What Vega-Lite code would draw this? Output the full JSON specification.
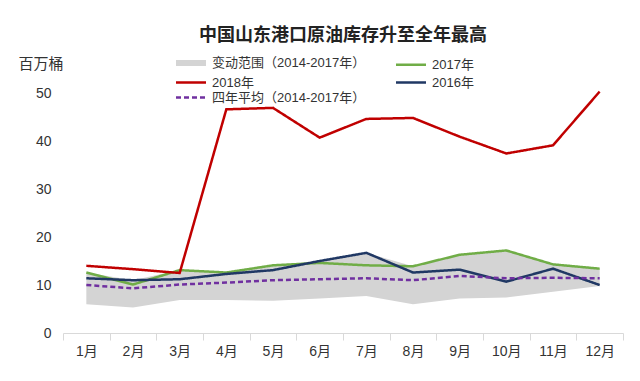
{
  "$schema": "https://vega.github.io/schema/vega-lite/v6.json",
  "autosize": "none",
  "width": 560,
  "height": 264,
  "padding": {"left": 63, "top": 69, "right": 17, "bottom": 48},
  "background": "white",
  "config": {
    "view": {"stroke": null},
    "font": "Liberation Sans, Noto Sans CJK SC, sans-serif"
  },
  "title": {
    "text": "中国山东港口原油库存升至全年最高",
    "fontSize": 18,
    "fontWeight": "bold",
    "color": "#222222",
    "anchor": "middle",
    "offset": 10,
    "font": "Noto Sans CJK SC"
  },
  "datasets": {
    "band": [
      {"month": "1月", "series": "变动范围（2014-2017年）", "low": 6.0, "high": 12.6},
      {"month": "2月", "series": "变动范围（2014-2017年）", "low": 5.3, "high": 11.0},
      {"month": "3月", "series": "变动范围（2014-2017年）", "low": 6.9, "high": 13.1},
      {"month": "4月", "series": "变动范围（2014-2017年）", "low": 6.9, "high": 12.6},
      {"month": "5月", "series": "变动范围（2014-2017年）", "low": 6.7, "high": 14.1},
      {"month": "6月", "series": "变动范围（2014-2017年）", "low": 7.2, "high": 15.0},
      {"month": "7月", "series": "变动范围（2014-2017年）", "low": 7.7, "high": 16.7},
      {"month": "8月", "series": "变动范围（2014-2017年）", "low": 6.0, "high": 13.9},
      {"month": "9月", "series": "变动范围（2014-2017年）", "low": 7.2, "high": 16.3},
      {"month": "10月", "series": "变动范围（2014-2017年）", "low": 7.4, "high": 17.2},
      {"month": "11月", "series": "变动范围（2014-2017年）", "low": 8.6, "high": 14.3},
      {"month": "12月", "series": "变动范围（2014-2017年）", "low": 9.8, "high": 13.4}
    ],
    "lines": [
      {"month": "1月", "series": "2017年", "value": 12.6},
      {"month": "2月", "series": "2017年", "value": 10.1},
      {"month": "3月", "series": "2017年", "value": 13.1},
      {"month": "4月", "series": "2017年", "value": 12.6},
      {"month": "5月", "series": "2017年", "value": 14.1},
      {"month": "6月", "series": "2017年", "value": 14.6},
      {"month": "7月", "series": "2017年", "value": 14.1},
      {"month": "8月", "series": "2017年", "value": 13.9},
      {"month": "9月", "series": "2017年", "value": 16.3},
      {"month": "10月", "series": "2017年", "value": 17.2},
      {"month": "11月", "series": "2017年", "value": 14.3},
      {"month": "12月", "series": "2017年", "value": 13.4},
      {"month": "1月", "series": "2016年", "value": 11.4},
      {"month": "2月", "series": "2016年", "value": 11.0},
      {"month": "3月", "series": "2016年", "value": 11.2},
      {"month": "4月", "series": "2016年", "value": 12.3},
      {"month": "5月", "series": "2016年", "value": 13.1},
      {"month": "6月", "series": "2016年", "value": 15.0},
      {"month": "7月", "series": "2016年", "value": 16.7},
      {"month": "8月", "series": "2016年", "value": 12.6},
      {"month": "9月", "series": "2016年", "value": 13.2},
      {"month": "10月", "series": "2016年", "value": 10.7},
      {"month": "11月", "series": "2016年", "value": 13.4},
      {"month": "12月", "series": "2016年", "value": 10.0},
      {"month": "1月", "series": "2018年", "value": 14.0},
      {"month": "2月", "series": "2018年", "value": 13.3},
      {"month": "3月", "series": "2018年", "value": 12.5},
      {"month": "4月", "series": "2018年", "value": 46.6},
      {"month": "5月", "series": "2018年", "value": 46.9},
      {"month": "6月", "series": "2018年", "value": 40.7},
      {"month": "7月", "series": "2018年", "value": 44.6},
      {"month": "8月", "series": "2018年", "value": 44.8},
      {"month": "9月", "series": "2018年", "value": 40.9},
      {"month": "10月", "series": "2018年", "value": 37.4},
      {"month": "11月", "series": "2018年", "value": 39.1},
      {"month": "12月", "series": "2018年", "value": 50.3},
      {"month": "1月", "series": "四年平均（2014-2017年）", "value": 10.0},
      {"month": "2月", "series": "四年平均（2014-2017年）", "value": 9.3},
      {"month": "3月", "series": "四年平均（2014-2017年）", "value": 10.1},
      {"month": "4月", "series": "四年平均（2014-2017年）", "value": 10.5},
      {"month": "5月", "series": "四年平均（2014-2017年）", "value": 11.0},
      {"month": "6月", "series": "四年平均（2014-2017年）", "value": 11.2},
      {"month": "7月", "series": "四年平均（2014-2017年）", "value": 11.4},
      {"month": "8月", "series": "四年平均（2014-2017年）", "value": 11.0},
      {"month": "9月", "series": "四年平均（2014-2017年）", "value": 11.9},
      {"month": "10月", "series": "四年平均（2014-2017年）", "value": 11.4},
      {"month": "11月", "series": "四年平均（2014-2017年）", "value": 11.5},
      {"month": "12月", "series": "四年平均（2014-2017年）", "value": 11.4}
    ]
  },
  "encoding": {
    "x": {
      "field": "month",
      "type": "ordinal",
      "sort": ["1月","2月","3月","4月","5月","6月","7月","8月","9月","10月","11月","12月"],
      "scale": {"type": "band", "paddingInner": 0, "paddingOuter": 0},
      "axis": {
        "title": null,
        "labelAngle": 0,
        "tickBand": "extent",
        "tickSize": 7,
        "tickColor": "#d9d9d9",
        "domainColor": "#d9d9d9",
        "labelFontSize": 14,
        "labelColor": "#333333",
        "labelPadding": 4,
        "grid": false
      }
    }
  },
  "layer": [
    {
      "data": {"name": "band"},
      "mark": {"type": "area", "opacity": 1},
      "encoding": {
        "y": {
          "field": "low",
          "type": "quantitative",
          "scale": {"domain": [0, 55], "nice": false},
          "axis": {
            "title": "百万桶",
            "titleAngle": 0,
            "titleAlign": "left",
            "titleBaseline": "middle",
            "titleX": -45,
            "titleY": -6,
            "titleFontSize": 15,
            "titleFontWeight": "normal",
            "titleColor": "#333333",
            "values": [0, 10, 20, 30, 40, 50],
            "labelFontSize": 14,
            "labelColor": "#333333",
            "labelPadding": 12,
            "ticks": false,
            "domain": false,
            "grid": false
          }
        },
        "y2": {"field": "high"},
        "color": {
          "field": "series",
          "type": "nominal",
          "title": null,
          "scale": {
            "domain": ["变动范围（2014-2017年）", "2017年", "2018年", "2016年", "四年平均（2014-2017年）"],
            "range": ["#d4d4d4", "#70ad47", "#c00000", "#203864", "#7030a0"]
          },
          "legend": {
            "title": null,
            "orient": "none",
            "direction": "horizontal",
            "legendX": 110,
            "legendY": -14,
            "columns": 2,
            "columnPadding": 25,
            "rowPadding": 1,
            "padding": 0,
            "symbolType": "M-1,0L5,0",
            "symbolSize": 100,
            "symbolStrokeWidth": 2.5,
            "symbolOpacity": 1,
            "labelOffset": 23,
            "labelFontSize": 13,
            "labelColor": "#333333",
            "labelFont": "Liberation Sans, Noto Sans CJK SC"
          }
        }
      }
    },
    {
      "data": {"name": "lines"},
      "mark": {"type": "line"},
      "encoding": {
        "y": {"field": "value", "type": "quantitative"},
        "color": {"field": "series", "type": "nominal", "title": null},
        "strokeDash": {
          "field": "series",
          "type": "nominal",
          "title": null,
          "scale": {
            "domain": ["变动范围（2014-2017年）", "2017年", "2018年", "2016年", "四年平均（2014-2017年）"],
            "range": [[1, 0], [1, 0], [1, 0], [1, 0], [5, 3]]
          }
        },
        "strokeWidth": {
          "field": "series",
          "type": "nominal",
          "title": null,
          "scale": {
            "type": "ordinal",
            "domain": ["变动范围（2014-2017年）", "2017年", "2018年", "2016年", "四年平均（2014-2017年）"],
            "range": [6, 2.5, 2.5, 2.5, 2.5]
          }
        }
      }
    }
  ]
}
